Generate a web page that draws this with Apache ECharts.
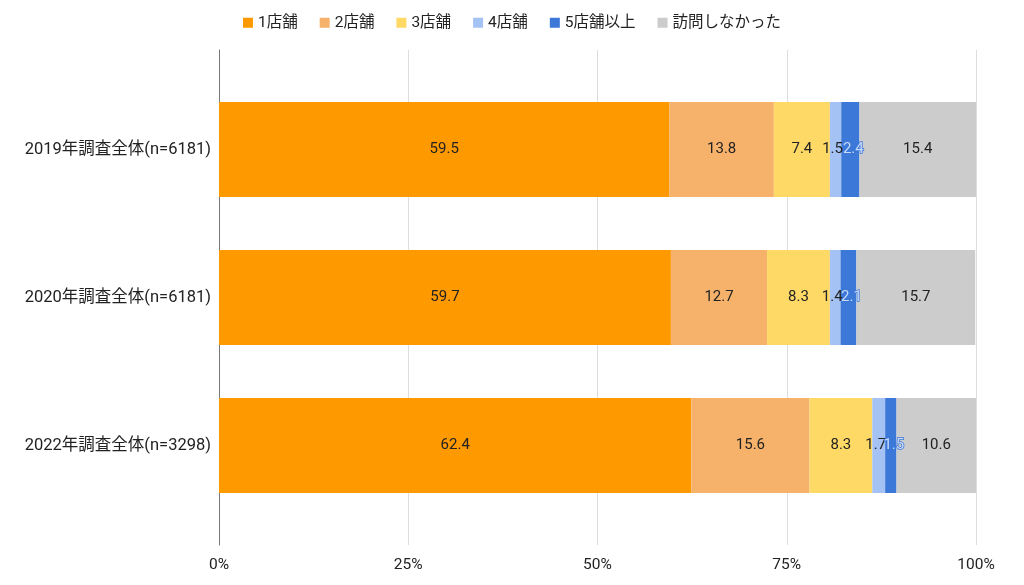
<!DOCTYPE html>
<html>
<head>
<meta charset="utf-8">
<script src="https://cdn.jsdelivr.net/npm/echarts@6/dist/echarts.min.js"></script>
<style>
html, body { margin: 0; padding: 0; background: #fff; }
#chart { width: 1024px; height: 585px; }
</style>
</head>
<body>
<div id="chart"></div>
<script>
var categories = ['2019年調査全体(n=6181)', '2020年調査全体(n=6181)', '2022年調査全体(n=3298)'];
var seriesNames = ['1店舗', '2店舗', '3店舗', '4店舗', '5店舗以上', '訪問しなかった'];
var colors = ['#ff9900', '#f6b26b', '#ffd966', '#a4c2f4', '#3c78d8', '#cccccc'];
var shop1 = [59.5, 59.7, 62.4];
var shop2 = [13.8, 12.7, 15.6];
var shop3 = [7.4, 8.3, 8.3];
var shop4 = [1.5, 1.4, 1.7];
var shop5 = [2.4, 2.1, 1.5];
var noVisit = [15.4, 15.7, 10.6];
var xTicks = [0, 25, 50, 75, 100];

var values = [shop1, shop2, shop3, shop4, shop5, noVisit];
var fontFamily = 'Roboto, "Noto Sans CJK JP", sans-serif';

var chart = echarts.init(document.getElementById('chart'));

var series = seriesNames.map(function (name, i) {
	var isBlue = i === 4;
	// narrow segments: push the two labels apart a little so they don't overlap
	var dx = i === 3 ? -3 : (i === 4 ? 3 : 0);
	return {
		name: name,
		type: 'bar',
		stack: 'total',
		xAxisIndex: 1,
		yAxisIndex: 1,
		barWidth: 95,
		itemStyle: { color: colors[i] },
		label: {
			show: true,
			position: 'inside',
			offset: [dx, 0],
			fontSize: 15,
			fontFamily: fontFamily,
			color: isBlue ? '#c9daf8' : '#222',
			textBorderColor: isBlue ? '#3c78d8' : 'transparent',
			textBorderWidth: isBlue ? 1.5 : 0
		},
		emphasis: { disabled: true },
		data: values[i]
	};
});

var option = {
	animation: false,
	color: colors,
	legend: {
		top: 10,
		left: 'center',
		icon: 'rect',
		itemWidth: 10,
		itemHeight: 10,
		itemGap: 22,
		textStyle: { fontSize: 15.5, color: '#222', fontFamily: fontFamily },
		data: seriesNames
	},
	grid: [
		{ left: 219, right: 48, top: 50, bottom: 40 },
		{ left: 219, right: 48, top: 75.5, bottom: 65.5 }
	],
	xAxis: [{
		gridIndex: 0,
		type: 'value',
		min: 0,
		max: 100,
		interval: 25,
		axisLine: { show: false },
		axisTick: { show: false },
		splitLine: { lineStyle: { color: '#dddddd' } },
		axisLabel: {
			margin: 12,
			fontSize: 15.5,
			color: '#222',
			fontFamily: fontFamily,
			formatter: function (v) { return xTicks.indexOf(v) >= 0 ? v + '%' : ''; }
		}
	}, {
		gridIndex: 1,
		type: 'value',
		min: 0,
		max: 100,
		show: false
	}],
	yAxis: [{
		gridIndex: 0,
		type: 'category',
		data: categories,
		axisLine: { show: true, lineStyle: { color: '#777', width: 1 } },
		axisTick: { show: false },
		axisLabel: { show: false }
	}, {
		gridIndex: 1,
		type: 'category',
		inverse: true,
		data: categories,
		axisLine: { show: false },
		axisTick: { show: false },
		axisLabel: {
			margin: 8,
			fontSize: 16.5,
			color: '#222',
			fontFamily: fontFamily
		}
	}],
	series: series
};

chart.setOption(option);
</script>
</body>
</html>
